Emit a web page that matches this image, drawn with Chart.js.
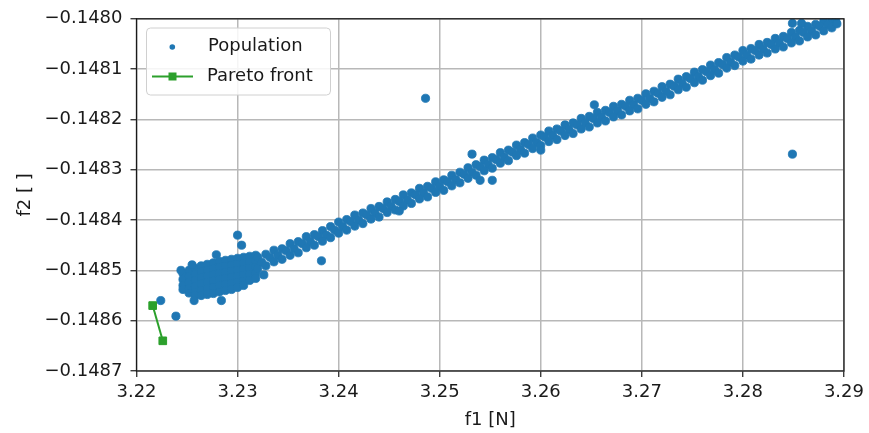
<!DOCTYPE html>
<html>
<head>
<meta charset="utf-8">
<script src="https://cdn.jsdelivr.net/npm/chart.js@4/dist/chart.umd.min.js"></script>
<style>
html,body{margin:0;padding:0;background:#fff;}
canvas{display:block;}
</style>
</head>
<body>
<canvas id="c" width="869" height="433"></canvas>
<script>
// ---- tick labels ----
const xTickValues = [3.22, 3.23, 3.24, 3.25, 3.26, 3.27, 3.28, 3.29];
const xTickLabels = ['3.22', '3.23', '3.24', '3.25', '3.26', '3.27', '3.28', '3.29'];
const yTickValues = [-0.1487, -0.1486, -0.1485, -0.1484, -0.1483, -0.1482, -0.1481, -0.1480];
const yTickLabels = ['\u22120.1487', '\u22120.1486', '\u22120.1485', '\u22120.1484', '\u22120.1483', '\u22120.1482', '\u22120.1481', '\u22120.1480'];

// ---- Population: main band (three rows) ----
const bandX = [
3.2320,3.2328,3.2336,3.2344,3.2352,3.2360,3.2368,3.2376,3.2384,3.2392,
3.2400,3.2408,3.2416,3.2424,3.2432,3.2440,3.2448,3.2456,3.2464,3.2472,
3.2480,3.2488,3.2496,3.2504,3.2512,3.2520,3.2528,3.2536,3.2544,3.2552,
3.2560,3.2568,3.2576,3.2584,3.2592,3.2600,3.2608,3.2616,3.2624,3.2632,
3.2640,3.2648,3.2656,3.2664,3.2672,3.2680,3.2688,3.2696,3.2704,3.2712,
3.2720,3.2728,3.2736,3.2744,3.2752,3.2760,3.2768,3.2776,3.2784,3.2792,
3.2800,3.2808,3.2816,3.2824,3.2832,3.2840,3.2848,3.2856,3.2864,3.2872,
3.2880,3.2888];
const bandTopY = [
-0.148474,-0.148468,-0.148460,-0.148457,-0.148447,-0.148443,-0.148433,-0.148429,-0.148421,-0.148413,
-0.148404,-0.148399,-0.148390,-0.148386,-0.148377,-0.148373,-0.148364,-0.148359,-0.148350,-0.148346,
-0.148337,-0.148333,-0.148324,-0.148320,-0.148311,-0.148305,-0.148296,-0.148290,-0.148281,-0.148276,
-0.148266,-0.148261,-0.148251,-0.148246,-0.148237,-0.148231,-0.148223,-0.148219,-0.148211,-0.148207,
-0.148198,-0.148194,-0.148186,-0.148182,-0.148174,-0.148170,-0.148162,-0.148158,-0.148149,-0.148144,
-0.148135,-0.148130,-0.148120,-0.148115,-0.148106,-0.148101,-0.148092,-0.148087,-0.148077,-0.148072,
-0.148063,-0.148059,-0.148051,-0.148047,-0.148039,-0.148035,-0.148027,-0.148023,-0.148015,-0.148011,
-0.148005,-0.148002];
const bandMidX = [
3.2324,3.2332,3.2340,3.2348,3.2356,3.2364,3.2372,3.2380,3.2388,3.2396,
3.2404,3.2412,3.2420,3.2428,3.2436,3.2444,3.2452,3.2460,3.2468,3.2476,
3.2484,3.2492,3.2500,3.2508,3.2516,3.2524,3.2532,3.2540,3.2548,3.2556,
3.2564,3.2572,3.2580,3.2588,3.2596,3.2604,3.2612,3.2620,3.2628,3.2636,
3.2644,3.2652,3.2660,3.2668,3.2676,3.2684,3.2692,3.2700,3.2708,3.2716,
3.2724,3.2732,3.2740,3.2748,3.2756,3.2764,3.2772,3.2780,3.2788,3.2796,
3.2804,3.2812,3.2820,3.2828,3.2836,3.2844,3.2852,3.2860,3.2868,3.2876,
3.2884,3.2892];
const bandMidY = [
-0.148484,-0.148474,-0.148470,-0.148461,-0.148457,-0.148447,-0.148443,-0.148433,-0.148430,-0.148420,
-0.148413,-0.148403,-0.148400,-0.148390,-0.148386,-0.148377,-0.148373,-0.148363,-0.148360,-0.148350,
-0.148346,-0.148337,-0.148333,-0.148324,-0.148320,-0.148309,-0.148305,-0.148294,-0.148290,-0.148280,
-0.148275,-0.148265,-0.148260,-0.148250,-0.148246,-0.148235,-0.148232,-0.148223,-0.148220,-0.148211,
-0.148207,-0.148198,-0.148195,-0.148186,-0.148183,-0.148174,-0.148171,-0.148162,-0.148158,-0.148148,
-0.148144,-0.148134,-0.148129,-0.148119,-0.148115,-0.148105,-0.148101,-0.148091,-0.148086,-0.148076,
-0.148072,-0.148063,-0.148060,-0.148051,-0.148048,-0.148039,-0.148036,-0.148027,-0.148024,-0.148015,
-0.148012,-0.148004];
const bandBotY = [
-0.148497,-0.148491,-0.148483,-0.148478,-0.148470,-0.148465,-0.148455,-0.148450,-0.148442,-0.148435,
-0.148426,-0.148420,-0.148412,-0.148407,-0.148398,-0.148394,-0.148385,-0.148380,-0.148372,-0.148367,
-0.148358,-0.148354,-0.148345,-0.148341,-0.148332,-0.148326,-0.148317,-0.148311,-0.148302,-0.148297,
-0.148287,-0.148282,-0.148272,-0.148267,-0.148258,-0.148252,-0.148244,-0.148240,-0.148232,-0.148228,
-0.148219,-0.148215,-0.148207,-0.148203,-0.148195,-0.148191,-0.148183,-0.148179,-0.148170,-0.148165,
-0.148156,-0.148151,-0.148141,-0.148136,-0.148127,-0.148122,-0.148113,-0.148108,-0.148098,-0.148093,
-0.148084,-0.148080,-0.148072,-0.148068,-0.148060,-0.148056,-0.148048,-0.148044,-0.148036,-0.148032,
-0.148024,-0.148018];

// ---- Population: dense cluster at the low-f1 end ----
const clusterX = [
3.2246,3.2246,3.2246,3.2246,
3.2252,3.2252,3.2252,3.2252,3.2252,
3.2258,3.2258,3.2258,3.2258,3.2258,3.2258,
3.2264,3.2264,3.2264,3.2264,3.2264,3.2264,
3.2270,3.2270,3.2270,3.2270,3.2270,3.2270,
3.2276,3.2276,3.2276,3.2276,3.2276,3.2276,
3.2282,3.2282,3.2282,3.2282,3.2282,3.2282,
3.2288,3.2288,3.2288,3.2288,3.2288,3.2288,
3.2294,3.2294,3.2294,3.2294,3.2294,3.2294,
3.2300,3.2300,3.2300,3.2300,3.2300,3.2300,
3.2306,3.2306,3.2306,3.2306,3.2306,3.2306,
3.2312,3.2312,3.2312,3.2312,3.2312,
3.2318,3.2318,3.2318,3.2318,3.2318];
const clusterY = [
-0.148506,-0.148518,-0.148530,-0.148538,
-0.148500,-0.148512,-0.148524,-0.148536,-0.148545,
-0.148496,-0.148508,-0.148520,-0.148532,-0.148544,-0.148550,
-0.148491,-0.148503,-0.148515,-0.148527,-0.148539,-0.148550,
-0.148488,-0.148500,-0.148512,-0.148524,-0.148536,-0.148548,
-0.148485,-0.148497,-0.148509,-0.148521,-0.148533,-0.148546,
-0.148482,-0.148494,-0.148506,-0.148518,-0.148530,-0.148543,
-0.148480,-0.148492,-0.148504,-0.148516,-0.148528,-0.148540,
-0.148478,-0.148490,-0.148502,-0.148514,-0.148526,-0.148538,
-0.148476,-0.148488,-0.148500,-0.148512,-0.148524,-0.148534,
-0.148474,-0.148486,-0.148498,-0.148510,-0.148522,-0.148530,
-0.148472,-0.148484,-0.148496,-0.148508,-0.148520,
-0.148470,-0.148482,-0.148494,-0.148506,-0.148516];

// ---- Population: scattered individuals ----
const outlierX = [3.2224, 3.2239, 3.2300, 3.2304, 3.2383, 3.2486, 3.2849, 3.2532, 3.2540, 3.2552,
                  3.2653, 3.2460, 3.2600, 3.2849, 3.2858, 3.2893, 3.2255, 3.2244, 3.2257, 3.2284,
                  3.2326, 3.2279];
const outlierY = [-0.148560, -0.148591, -0.148430, -0.148450, -0.148481, -0.148158, -0.148269, -0.148269, -0.148321, -0.148321,
                  -0.148171, -0.148382, -0.148261, -0.148009, -0.148009, -0.148010, -0.148489, -0.148500, -0.148560, -0.148560,
                  -0.148509, -0.148469];

// ---- Pareto front ----
const paretoX = [3.2216, 3.2226];
const paretoY = [-0.148570, -0.148640];

// ---- build datasets ----
const pts = (xs, ys) => xs.map((x, i) => ({x: x, y: ys[i]}));
const populationData = [].concat(
  pts(clusterX, clusterY),
  pts(bandX, bandTopY),
  pts(bandMidX, bandMidY),
  pts(bandX, bandBotY),
  pts(outlierX, outlierY)
);
const paretoData = pts(paretoX, paretoY);

const FONT = 'DejaVu Sans';
const TXT = '#1a1a1a';
const BLUE = '#1f77b4';
const GREEN = '#2ca02c';

const framePlugin = {
  id: 'frame',
  afterDraw(chart) {
    const {ctx, chartArea: a} = chart;
    ctx.save();
    // spines
    ctx.strokeStyle = '#1a1a1a';
    ctx.lineWidth = 1.3;
    ctx.strokeRect(a.left, a.top, a.right - a.left, a.bottom - a.top);
    // legend
    const lx = 146.5, ly = 28, lw = 184, lh = 67, r = 4;
    ctx.beginPath();
    ctx.moveTo(lx + r, ly);
    ctx.lineTo(lx + lw - r, ly);
    ctx.arcTo(lx + lw, ly, lx + lw, ly + r, r);
    ctx.lineTo(lx + lw, ly + lh - r);
    ctx.arcTo(lx + lw, ly + lh, lx + lw - r, ly + lh, r);
    ctx.lineTo(lx + r, ly + lh);
    ctx.arcTo(lx, ly + lh, lx, ly + lh - r, r);
    ctx.lineTo(lx, ly + r);
    ctx.arcTo(lx, ly, lx + r, ly, r);
    ctx.closePath();
    ctx.fillStyle = 'rgba(255,255,255,0.85)';
    ctx.fill();
    ctx.strokeStyle = '#d0d0d0';
    ctx.lineWidth = 1;
    ctx.stroke();
    const ds = chart.data.datasets;
    // Population entry
    ctx.fillStyle = BLUE;
    ctx.beginPath();
    ctx.arc(172.3, 47, 2.8, 0, Math.PI * 2);
    ctx.fill();
    // Pareto entry
    ctx.strokeStyle = GREEN;
    ctx.lineWidth = 2;
    ctx.beginPath();
    ctx.moveTo(152, 76.5);
    ctx.lineTo(193, 76.5);
    ctx.stroke();
    ctx.fillStyle = GREEN;
    ctx.fillRect(168.5, 72.5, 8, 8);
    ctx.fillStyle = TXT;
    ctx.font = '18px "' + FONT + '"';
    ctx.textBaseline = 'middle';
    ctx.textAlign = 'left';
    ctx.fillText(ds[0].label, 208, 46);
    ctx.fillText(ds[1].label, 207, 76);
    ctx.restore();
  }
};

new Chart(document.getElementById('c'), {
  type: 'scatter',
  data: {
    datasets: [
      {
        label: 'Population',
        data: populationData,
        backgroundColor: BLUE,
        borderColor: BLUE,
        pointBorderWidth: 0.8,
        pointRadius: 4.1,
        pointHoverRadius: 4.1,
        showLine: false,
        order: 2
      },
      {
        label: 'Pareto front',
        data: paretoData,
        backgroundColor: GREEN,
        borderColor: GREEN,
        borderWidth: 2,
        pointStyle: 'rect',
        pointRadius: 5.4,
        pointBorderWidth: 1,
        showLine: true,
        order: 1
      }
    ]
  },
  options: {
    responsive: false,
    animation: false,
    devicePixelRatio: 1,
    layout: {padding: {left: 0, top: 18, right: 22, bottom: 0}},
    plugins: {legend: {display: false}, tooltip: {enabled: false}},
    scales: {
      x: {
        type: 'linear',
        min: 3.22,
        max: 3.29,
        afterFit(scale) { scale.height = 62; },
        afterBuildTicks(axis) { axis.ticks = xTickValues.map(v => ({value: v})); },
        ticks: {
          autoSkip: false,
          maxRotation: 0,
          padding: 5,
          color: TXT,
          font: {family: FONT, size: 18},
          callback: (v, i) => xTickLabels[i]
        },
        grid: {color: '#b8b8b8', lineWidth: 1.5, tickLength: 6, tickColor: '#1a1a1a', tickWidth: 1.2},
        border: {display: false},
        title: {display: true, text: 'f1 [N]', color: TXT, font: {family: FONT, size: 18}, padding: {top: 0, bottom: 2}}
      },
      y: {
        type: 'linear',
        min: -0.1487,
        max: -0.1480,
        afterFit(scale) { scale.width = 136.5; },
        afterBuildTicks(axis) { axis.ticks = yTickValues.map(v => ({value: v})); },
        ticks: {
          autoSkip: false,
          padding: 8,
          color: TXT,
          font: {family: FONT, size: 18},
          callback: (v, i) => yTickLabels[i]
        },
        grid: {color: '#b8b8b8', lineWidth: 1.5, tickLength: 6, tickColor: '#1a1a1a', tickWidth: 1.2},
        border: {display: false},
        title: {display: true, text: 'f2 [ ]', color: TXT, font: {family: FONT, size: 18}, padding: {top: 15, bottom: 0}}
      }
    }
  },
  plugins: [framePlugin]
});
</script>
</body>
</html>
